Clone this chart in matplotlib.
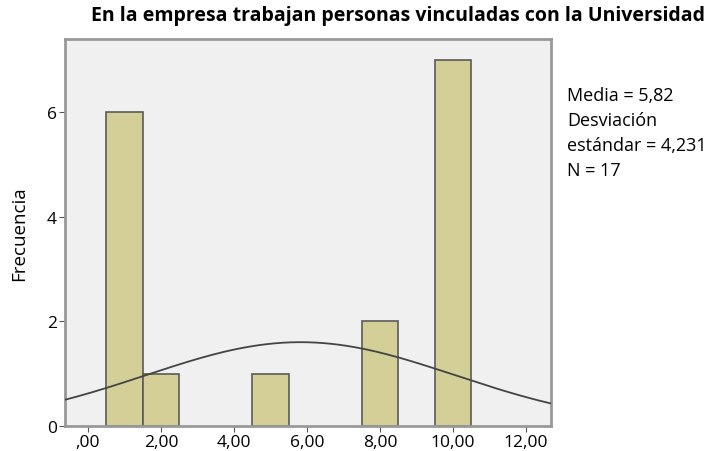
import numpy as np
import matplotlib.pyplot as plt

plt.rcParams['font.family'] = ['Open Sans', 'DejaVu Sans']

# datos del histograma
valores = [1, 2, 5, 8, 10]
frecuencias = [6, 1, 1, 2, 7]
media = 5.82
desv = 4.231
n = 17
xticks = [0, 2, 4, 6, 8, 10, 12]
xtick_labels = [',00', '2,00', '4,00', '6,00', '8,00', '10,00', '12,00']
yticks = [0, 2, 4, 6]

fig = plt.figure(figsize=(7.1, 4.52), dpi=100)
ax = fig.add_axes([0.0915, 0.0553, 0.6845, 0.8562])
ax.set_facecolor('#f0f0f0')

ax.bar(valores, frecuencias, width=1.0, color='#d3cf96', edgecolor='#5a5a5a', linewidth=1.2, zorder=2)

# curva normal
xs = np.linspace(-0.63, 12.68, 300)
ys = n * 1.0 / (desv * np.sqrt(2 * np.pi)) * np.exp(-0.5 * ((xs - media) / desv) ** 2)
ax.plot(xs, ys, color='#444444', linewidth=1.3, zorder=3)

ax.set_xlim(-0.63, 12.68)
ax.set_ylim(0, 7.4)
ax.set_xticks(xticks)
ax.set_xticklabels(xtick_labels, fontsize=12.5)
ax.set_yticks(yticks)
ax.set_yticklabels([str(t) for t in yticks], fontsize=12.5)
ax.tick_params(direction='out', length=4, color='#555555', pad=2)
for s in ax.spines.values():
    s.set_color('#999999')
    s.set_linewidth(2)

ax.set_ylabel('Frecuencia', fontsize=13.5, labelpad=13)
fig.text(398 / 710, 1 - 16 / 452, 'En la empresa trabajan personas vinculadas con la Universidad',
         ha='center', va='center', fontsize=14, fontweight='bold')

fig.text(567 / 710, 1 - 87 / 452,
         'Media = 5,82\nDesviación\nestándar = 4,231\nN = 17',
         ha='left', va='top', fontsize=13, linespacing=1.5)

plt.savefig('out.png', dpi=100)
